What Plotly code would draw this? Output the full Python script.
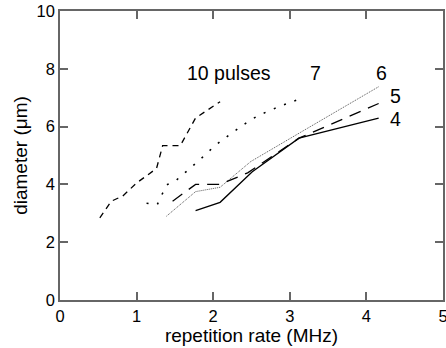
import plotly.graph_objects as go

x10 = [0.52, 0.67, 0.82, 1.0, 1.26, 1.34, 1.57, 1.77, 2.09]
y10 = [2.84, 3.42, 3.6, 4.05, 4.55, 5.34, 5.34, 6.3, 6.86]

x7 = [1.13, 1.27, 1.39, 1.52, 1.82, 2.03, 2.25, 2.47, 2.6, 2.86, 3.12]
y7 = [3.35, 3.3, 3.98, 4.15, 4.84, 5.36, 5.79, 6.2, 6.4, 6.69, 6.95]

x6 = [1.39, 1.77, 2.09, 2.49, 3.12, 4.16]
y6 = [2.9, 3.75, 3.9, 4.79, 5.77, 7.38]

x5 = [1.47, 1.77, 2.09, 2.45, 3.12, 4.16]
y5 = [3.42, 4.0, 4.0, 4.4, 5.6, 6.8]

x4 = [1.77, 2.09, 2.51, 3.12, 4.16]
y4 = [3.09, 3.38, 4.44, 5.6, 6.29]

label_text = ["10 pulses", "7", "6", "5", "4"]
label_x = [2.21, 3.33, 4.2, 4.38, 4.38]
label_y = [7.85, 7.85, 7.85, 7.05, 6.25]

xticks = [0, 1, 2, 3, 4, 5]
yticks = [0, 2, 4, 6, 8, 10]

FONT = "Liberation Sans, Arial, Helvetica, sans-serif"
AX = "#666666"

fig = go.Figure()
fig.add_trace(go.Scatter(x=x10, y=y10, mode="lines",
                         line=dict(color="black", width=1.3, dash="6px,5px")))
fig.add_trace(go.Scatter(x=x7, y=y7, mode="lines",
                         line=dict(color="black", width=1.6, dash="2px,9px")))
fig.add_trace(go.Scatter(x=x6, y=y6, mode="lines",
                         line=dict(color="#555555", width=1.0, dash="1px,1px")))
fig.add_trace(go.Scatter(x=x5, y=y5, mode="lines",
                         line=dict(color="black", width=1.3, dash="12px,8px")))
fig.add_trace(go.Scatter(x=x4, y=y4, mode="lines",
                         line=dict(color="black", width=1.3)))

for t, xx, yy in zip(label_text, label_x, label_y):
    fig.add_annotation(x=xx, y=yy, text=t, showarrow=False,
                       font=dict(family=FONT, size=19.5, color="black"))

axis_common = dict(showgrid=False, zeroline=False, showline=True,
                   linecolor=AX, linewidth=1.5, mirror="ticks",
                   ticks="inside", ticklen=8, tickcolor=AX, tickwidth=1.5,
                   automargin=False, ticklabeloverflow="allow",
                   tickfont=dict(family=FONT, size=16.5, color="black"))

fig.update_layout(
    width=446, height=348,
    margin=dict(l=60, r=3, t=11, b=48),
    paper_bgcolor="white", plot_bgcolor="white",
    showlegend=False,
    xaxis=dict(range=[0, 5], tickvals=xticks, ticktext=[str(v) for v in xticks],
               title=dict(text="repetition rate (MHz)", standoff=0,
                          font=dict(family=FONT, size=19, color="black")),
               **axis_common),
    yaxis=dict(range=[0, 10], tickvals=yticks, ticktext=[str(v) for v in yticks],
               title=dict(text="diameter (μm)", standoff=4,
                          font=dict(family=FONT, size=19, color="black")),
               **axis_common),
)

fig.write_html("out.html")
